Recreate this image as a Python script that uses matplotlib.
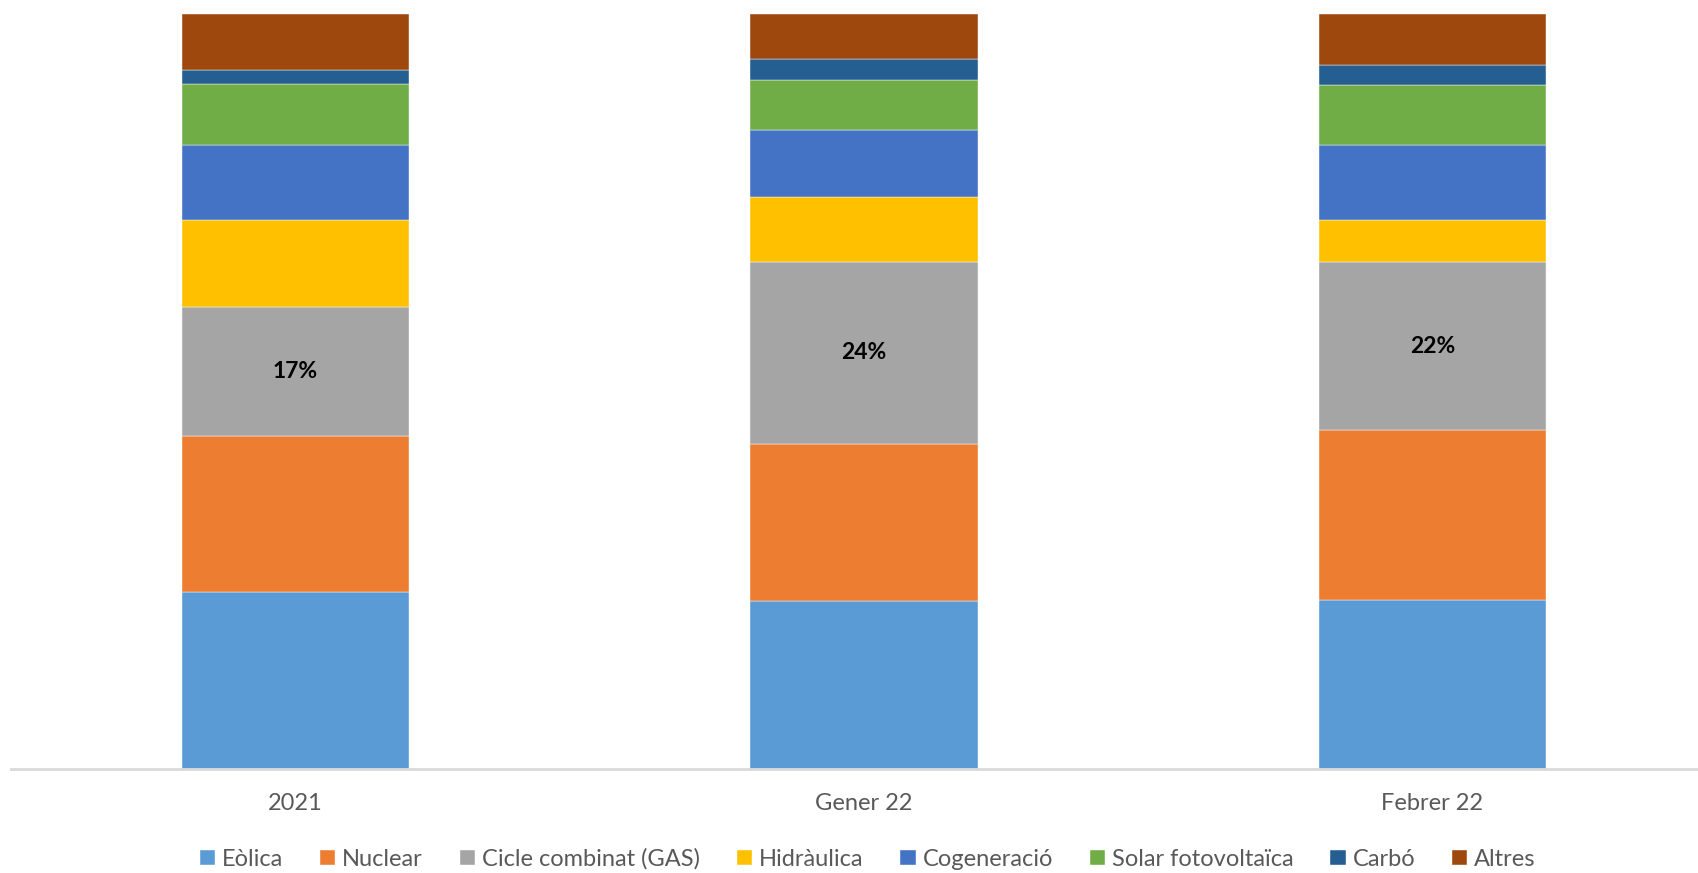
import numpy as np
import matplotlib
matplotlib.use("Agg")
import matplotlib.pyplot as plt

plt.rcParams['font.family'] = ['Lato', 'DejaVu Sans']

categories = ["2021", "Gener 22", "Febrer 22"]
sources = ["Eòlica", "Nuclear", "Cicle combinat (GAS)", "Hidràulica",
           "Cogeneració", "Solar fotovoltaïca", "Carbó", "Altres"]
colors = ["#5B9BD5", "#ED7D31", "#A5A5A5", "#FFC000",
          "#4472C4", "#70AD47", "#255E91", "#9E480E"]

eolica = [23.4, 22.2, 22.4]
nuclear = [20.7, 20.8, 22.5]
gas = [17.1, 24.2, 22.2]
hidraulica = [11.5, 8.6, 5.6]
cogeneracio = [10.0, 8.9, 9.9]
solar = [8.0, 6.5, 8.0]
carbo = [1.9, 2.9, 2.7]
altres = [7.4, 5.9, 6.7]
gas_labels = ["17%", "24%", "22%"]

series = [eolica, nuclear, gas, hidraulica, cogeneracio, solar, carbo, altres]

fig = plt.figure(figsize=(16.98, 8.73), dpi=100)
ax = fig.add_axes([11/1698, 104/873, 1687/1698, 755/873])

x = np.arange(len(categories))
bottom = np.zeros(len(categories))
for name, vals, col in zip(sources, series, colors):
    vals = np.array(vals)
    ax.bar(x, vals, 0.4, bottom=bottom, color=col, label=name,
           edgecolor="white", linewidth=0.3)
    if name.startswith("Cicle"):
        for xi, b, v, lab in zip(x, bottom, vals, gas_labels):
            ax.text(xi, b + v / 2, lab, ha="center", va="center",
                    fontsize=16.5, fontweight="bold", color="black")
    bottom += vals

ax.set_xlim(-0.5, 2.467)
ax.set_ylim(0, 100)
ax.set_yticks([])
ax.set_xticks(x)
ax.set_xticklabels(categories, fontsize=17, color="#595959")
ax.tick_params(axis="x", length=0, pad=17)
for s in ["top", "left", "right"]:
    ax.spines[s].set_visible(False)
ax.spines["bottom"].set_color("#D9D9D9")
ax.spines["bottom"].set_linewidth(2)

fig.legend(loc="center", bbox_to_anchor=(0.511, 1 - 859/873), ncol=8,
           frameon=False, fontsize=17, handlelength=0.65, handleheight=0.65,
           handletextpad=0.3, columnspacing=1.55, labelcolor="#595959")

fig.savefig("out.png", dpi=100)
